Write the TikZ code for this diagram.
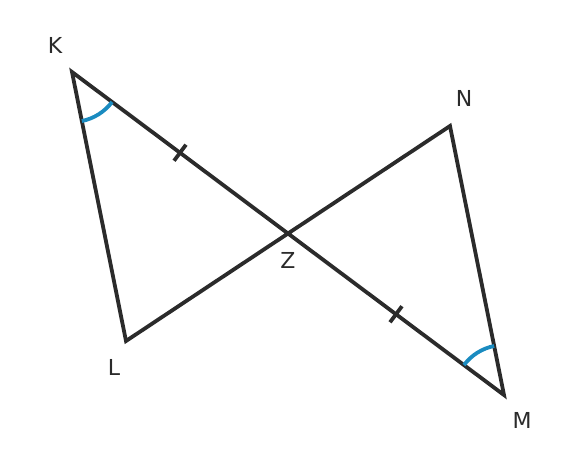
\documentclass[tikz,border=0pt]{standalone}
\usepackage{fontspec}
\setmainfont{DejaVu Sans}
\usetikzlibrary{calc,angles}
\definecolor{ink}{HTML}{2B2B2B}
\definecolor{arcblue}{HTML}{1A8BC0}
\tikzset{
  seg/.style={draw=ink, line width=3.8pt, line join=miter},
  tick/.style={draw=ink, line width=3.8pt},
  anglemark/.style={draw=arcblue, line width=3.8pt, angle radius=50pt},
  lbl/.style={text=ink, font=\fontsize{22}{26}\selectfont, inner sep=0pt}
}
\begin{document}
\begin{tikzpicture}[x=1pt,y=-1pt]
\useasboundingbox (0,0) rectangle (576,468);
\coordinate (K) at (72,72);
\coordinate (L) at (126,341);
\coordinate (N) at (450,126);
\coordinate (M) at (504,395);
\coordinate (Z) at ($(K)!0.5!(M)$);
\coordinate (t1) at ($(K)!0.5!(Z)$);
\coordinate (t2) at ($(Z)!0.5!(M)$);
\path[seg] (K) -- (L) -- (N) -- (M) -- cycle;
\draw[tick] ($(t1)!10pt!90:(Z)$) -- ($(t1)!10pt!-90:(Z)$);
\draw[tick] ($(t2)!10pt!90:(M)$) -- ($(t2)!10pt!-90:(M)$);
\pic[anglemark] {angle = L--K--M};
\pic[anglemark] {angle = N--M--K};
\node[lbl] (lK) at (55,45) {K};
\node[lbl] (lN) at (464,98) {N};
\node[lbl] (lZ) at (288,260) {Z};
\node[lbl] (lL) at (114,367) {L};
\node[lbl] (lM) at (522,420) {M};
\end{tikzpicture}
\end{document}
